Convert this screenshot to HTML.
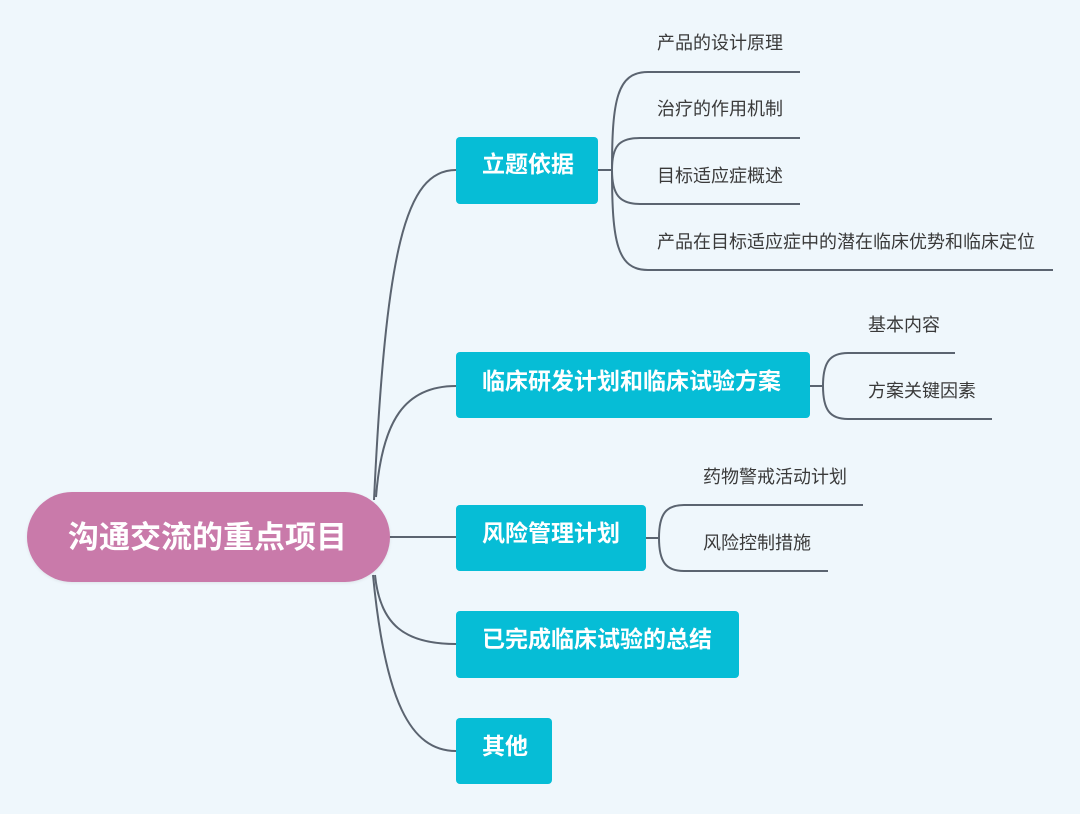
<!DOCTYPE html>
<html><head><meta charset="utf-8">
<style>
html,body{margin:0;padding:0;}
body{width:1080px;height:814px;background:#eff7fc;position:relative;overflow:hidden;font-family:"Liberation Sans","Noto Sans CJK SC",sans-serif;}
svg{position:absolute;left:0;top:0;}
.box{position:absolute;background:#06bdd6;border-radius:4px;}
.bt{position:absolute;color:#fff;font-weight:bold;font-size:23px;line-height:23px;white-space:nowrap;}
.ct{position:absolute;color:#3a3a3a;font-size:18px;line-height:18px;white-space:nowrap;}
.root{position:absolute;left:27px;top:492px;width:363px;height:90px;border-radius:45px;background:#c97aaa;box-shadow:0 1px 3px rgba(0,0,0,0.08);}
.rt{position:absolute;color:#fff;font-weight:bold;font-size:31px;line-height:31px;white-space:nowrap;left:68px;top:522px;}
</style></head><body>
<svg width="1080" height="814" viewBox="0 0 1080 814" fill="none" stroke="#5b6470" stroke-width="2">
  <!-- root connectors -->
  <path d="M374,500 C386,250 405,170 456,170"/>
  <path d="M376,497 C382,420 405,386 456,386"/>
  <path d="M385,537 L456,537"/>
  <path d="M375,575 C380,625 405,644 456,644"/>
  <path d="M373,575 C385,700 410,751 456,751"/>
  <!-- 立题依据 bracket -->
  <path d="M598,170 L612,170"/>
  <path d="M612,170 C612,100 617,72 648,72 L800,72"/>
  <path d="M612,170 C612,146 619,138 640,138 L800,138"/>
  <path d="M612,170 C612,194 619,204 640,204 L800,204"/>
  <path d="M612,170 C612,242 617,270 648,270 L1053,270"/>
  <!-- 临床研发 bracket -->
  <path d="M810,386 L823,386"/>
  <path d="M823,386 C823,362 830,353 848,353 L955,353"/>
  <path d="M823,386 C823,410 830,419 848,419 L992,419"/>
  <!-- 风险 bracket -->
  <path d="M646,538 L659,538"/>
  <path d="M659,538 C659,514 666,505 684,505 L863,505"/>
  <path d="M659,538 C659,562 666,571 684,571 L828,571"/>
</svg>

<div class="root"></div>
<div class="rt">沟通交流的重点项目</div>

<div class="box" style="left:456px;top:137px;width:142px;height:67px;"></div>
<div class="bt" style="left:482px;top:153px;">立题依据</div>

<div class="box" style="left:456px;top:352px;width:354px;height:66px;"></div>
<div class="bt" style="left:482px;top:370px;">临床研发计划和临床试验方案</div>

<div class="box" style="left:456px;top:505px;width:190px;height:66px;"></div>
<div class="bt" style="left:482px;top:522px;">风险管理计划</div>

<div class="box" style="left:456px;top:611px;width:283px;height:67px;"></div>
<div class="bt" style="left:482px;top:628px;">已完成临床试验的总结</div>

<div class="box" style="left:456px;top:718px;width:96px;height:66px;"></div>
<div class="bt" style="left:482px;top:735px;">其他</div>

<div class="ct" style="left:657px;top:34px;">产品的设计原理</div>
<div class="ct" style="left:657px;top:100px;">治疗的作用机制</div>
<div class="ct" style="left:657px;top:167px;">目标适应症概述</div>
<div class="ct" style="left:657px;top:233px;">产品在目标适应症中的潜在临床优势和临床定位</div>

<div class="ct" style="left:868px;top:316px;">基本内容</div>
<div class="ct" style="left:868px;top:382px;">方案关键因素</div>

<div class="ct" style="left:703px;top:468px;">药物警戒活动计划</div>
<div class="ct" style="left:703px;top:534px;">风险控制措施</div>
</body></html>
